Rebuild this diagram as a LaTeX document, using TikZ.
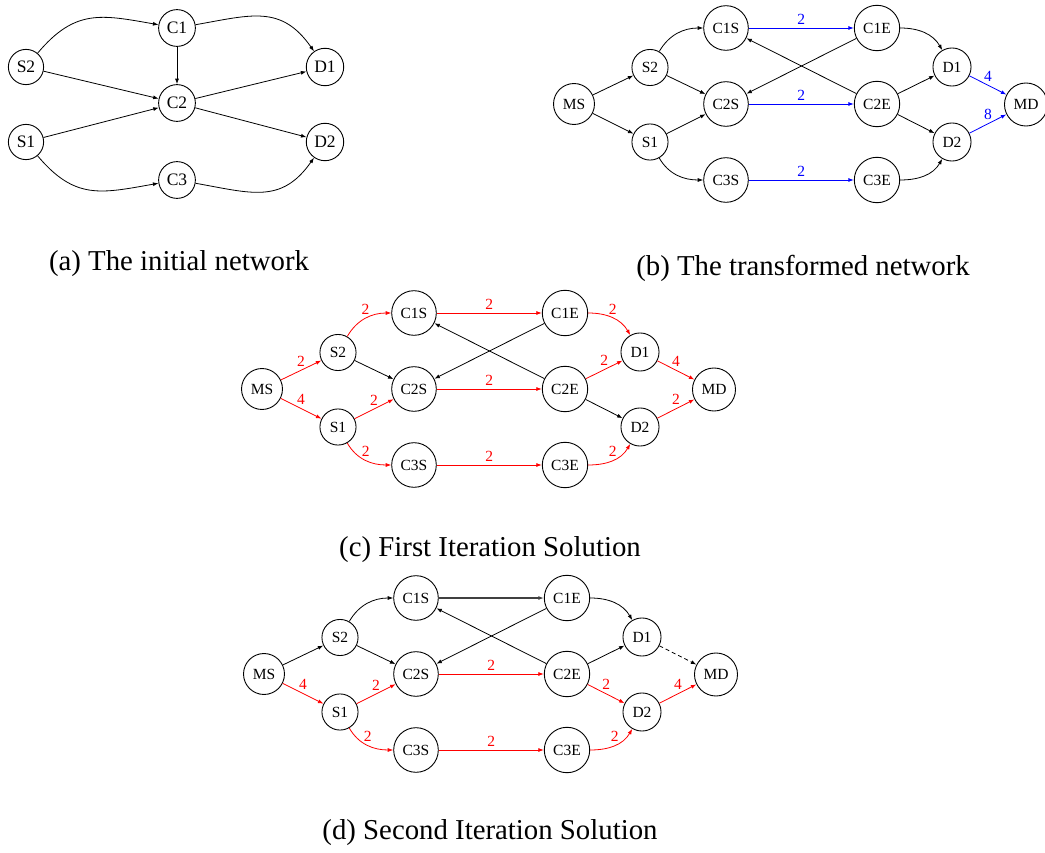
\documentclass[tikz,border=0pt]{standalone}
\usepackage{fontspec}
\setmainfont{Liberation Serif}
\usetikzlibrary{arrows.meta}

\tikzset{
  vtx/.style={circle, draw, line width=0.9pt, inner sep=6pt,
    font=\fontsize{15.5}{18}\selectfont},
  vtxa/.style={circle, draw, line width=0.9pt, inner sep=4.8pt,
    font=\fontsize{17.5}{20}\selectfont},
  arc/.style={line width=0.8pt, -{Latex[length=5.5pt,width=4pt]}},
  blueflow/.style={arc, blue},
  redflow/.style={arc, red},
  idle/.style={arc, draw=black!75, line width=1.4pt},
  unused/.style={arc, dashed, dash pattern=on 4pt off 3pt},
  flowlbl/.style={font=\fontsize{15.5}{18}\selectfont, inner sep=3.5pt},
  caption/.style={font=\fontsize{28.8}{34}\selectfont, inner sep=0pt},
}

% Nodes of the transformed network, placed relative to the super source MS.
\newcommand\placenet[1]{%
  \node[vtx] (#1MS)  at (0,0)       {MS};
  \node[vtx] (#1S2)  at (76,36.5)   {S2};
  \node[vtx] (#1S1)  at (76,-38)    {S1};
  \node[vtx] (#1C1S) at (152,76)    {C1S};
  \node[vtx] (#1C2S) at (152,0)     {C2S};
  \node[vtx] (#1C3S) at (152,-76)   {C3S};
  \node[vtx] (#1C1E) at (303,76)    {C1E};
  \node[vtx] (#1C2E) at (303,0)     {C2E};
  \node[vtx] (#1C3E) at (303,-76)   {C3E};
  \node[vtx] (#1D1)  at (378,37)    {D1};
  \node[vtx] (#1D2)  at (378,-38)   {D2};
  \node[vtx] (#1MD)  at (452,-0.5)  {MD};
}

\begin{document}
\begin{tikzpicture}[x=1pt, y=1pt]
\useasboundingbox (0,0) rectangle (1045,-853);

% ---------------- (a) initial network ----------------
\node[vtxa] (S2) at (26,-67)  {S2};
\node[vtxa] (S1) at (26,-142) {S1};
\node[vtxa] (C1) at (177,-28) {C1};
\node[vtxa] (C2) at (177,-103) {C2};
\node[vtxa] (C3) at (177,-180) {C3};
\node[vtxa] (D1) at (325,-67) {D1};
\node[vtxa] (D2) at (325,-142) {D2};

\draw[arc] (S2) to[out=50,in=170,looseness=1.2] (C1);
\draw[arc] (S2) -- (C2);
\draw[arc] (S1) -- (C2);
\draw[arc] (S1) to[out=-50,in=-170,looseness=1.2] (C3);
\draw[arc] (C1) -- (C2);
\draw[arc] (C1) to[out=10,in=125,looseness=1.2] (D1);
\draw[arc] (C2) -- (D1);
\draw[arc] (C2) -- (D2);
\draw[arc] (C3) to[out=-10,in=-125,looseness=1.2] (D2);

\node[caption] (capa) at (179,-264) {(a) The initial network};

% ---------------- (b) transformed network ----------------
\begin{scope}[shift={(574,-104)}]
  \placenet{b}
\end{scope}
\draw[arc] (bMS) -- (bS2);
\draw[arc] (bMS) -- (bS1);
\draw[arc] (bS2) to[out=60,in=180] (bC1S);
\draw[arc] (bS2) -- (bC2S);
\draw[arc] (bS1) -- (bC2S);
\draw[arc] (bS1) to[out=-60,in=180] (bC3S);
\draw[blueflow] (bC1S) -- node[flowlbl, above] {2} (bC1E);
\draw[blueflow] (bC2S) -- node[flowlbl, above] {2} (bC2E);
\draw[blueflow] (bC3S) -- node[flowlbl, above] {2} (bC3E);
\draw[arc] (bC1E) -- (bC2S);
\draw[arc] (bC2E) -- (bC1S);
\draw[arc] (bC1E) to[out=0,in=120] (bD1);
\draw[arc] (bC2E) -- (bD1);
\draw[arc] (bC2E) -- (bD2);
\draw[arc] (bC3E) to[out=0,in=-120] (bD2);
\draw[blueflow] (bD1) -- node[flowlbl, above] {4} (bMD);
\draw[blueflow] (bD2) -- node[flowlbl, above] {8} (bMD);

\node[caption] (capb) at (803,-268) {(b) The transformed network};

% ---------------- (c) first iteration ----------------
\begin{scope}[shift={(262,-389)}]
  \placenet{c}
\end{scope}
\draw[redflow] (cMS) -- node[flowlbl, above] {2} (cS2);
\draw[redflow] (cMS) -- node[flowlbl, above] {4} (cS1);
\draw[redflow] (cS2) to[out=60,in=180] node[flowlbl, above] {2} (cC1S);
\draw[arc] (cS2) -- (cC2S);
\draw[redflow] (cS1) -- node[flowlbl, above] {2} (cC2S);
\draw[redflow] (cS1) to[out=-60,in=180] node[flowlbl, above] {2} (cC3S);
\draw[redflow] (cC1S) -- node[flowlbl, above] {2} (cC1E);
\draw[redflow] (cC2S) -- node[flowlbl, above] {2} (cC2E);
\draw[redflow] (cC3S) -- node[flowlbl, above] {2} (cC3E);
\draw[arc] (cC1E) -- (cC2S);
\draw[arc] (cC2E) -- (cC1S);
\draw[redflow] (cC1E) to[out=0,in=120] node[flowlbl, above] {2} (cD1);
\draw[redflow] (cC2E) -- node[flowlbl, above] {2} (cD1);
\draw[arc] (cC2E) -- (cD2);
\draw[redflow] (cC3E) to[out=0,in=-120] node[flowlbl, above] {2} (cD2);
\draw[redflow] (cD1) -- node[flowlbl, above] {4} (cMD);
\draw[redflow] (cD2) -- node[flowlbl, above] {2} (cMD);

\node[caption] (capc) at (490,-550) {(c) First Iteration Solution};

% ---------------- (d) second iteration ----------------
\begin{scope}[shift={(264,-674)}]
  \placenet{d}
\end{scope}
\draw[arc] (dMS) -- (dS2);
\draw[redflow] (dMS) -- node[flowlbl, above] {4} (dS1);
\draw[arc] (dS2) to[out=60,in=180] (dC1S);
\draw[arc] (dS2) -- (dC2S);
\draw[redflow] (dS1) -- node[flowlbl, above] {2} (dC2S);
\draw[redflow] (dS1) to[out=-60,in=180] node[flowlbl, above] {2} (dC3S);
\draw[idle] (dC1S) -- (dC1E);
\draw[redflow] (dC2S) -- node[flowlbl, above] {2} (dC2E);
\draw[redflow] (dC3S) -- node[flowlbl, above] {2} (dC3E);
\draw[arc] (dC1E) -- (dC2S);
\draw[arc] (dC2E) -- (dC1S);
\draw[arc] (dC1E) to[out=0,in=120] (dD1);
\draw[arc] (dC2E) -- (dD1);
\draw[redflow] (dC2E) -- node[flowlbl, above] {2} (dD2);
\draw[redflow] (dC3E) to[out=0,in=-120] node[flowlbl, above] {2} (dD2);
\draw[unused] (dD1) -- (dMD);
\draw[redflow] (dD2) -- node[flowlbl, above] {4} (dMD);

\node[caption] (capd) at (490,-833) {(d) Second Iteration Solution};

\end{tikzpicture}
\end{document}
